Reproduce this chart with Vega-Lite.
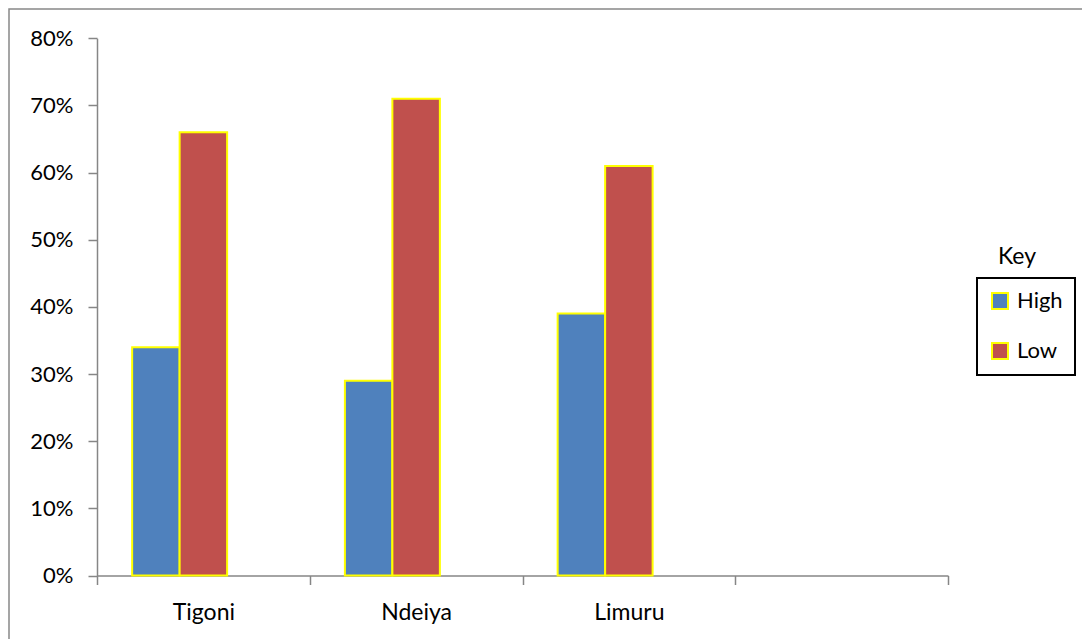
{
  "$schema": "https://vega.github.io/schema/vega-lite/v6.json",
  "width": 1081,
  "height": 638,
  "autosize": {"type": "none"},
  "padding": {"left": 9, "top": 9, "right": -8, "bottom": -8},
  "background": "white",
  "title": {
    "text": "Key",
    "orient": "top",
    "anchor": "start",
    "frame": "group",
    "font": "Lato",
    "fontSize": 23,
    "fontWeight": "normal",
    "color": "#000000",
    "baseline": "alphabetic",
    "offset": 0,
    "dx": 989,
    "dy": 278
  },
  "config": {
    "view": {"stroke": "#888888", "strokeWidth": 1.5},
    "font": "Lato"
  },
  "data": {
    "values": [
      {"site": "Tigoni", "level": "High", "pct": 0.34},
      {"site": "Tigoni", "level": "Low", "pct": 0.66},
      {"site": "Ndeiya", "level": "High", "pct": 0.29},
      {"site": "Ndeiya", "level": "Low", "pct": 0.71},
      {"site": "Limuru", "level": "High", "pct": 0.39},
      {"site": "Limuru", "level": "Low", "pct": 0.61}
    ]
  },
  "mark": {"type": "bar", "stroke": "#FFFF00", "strokeWidth": 2},
  "encoding": {
    "x": {
      "field": "site",
      "type": "nominal",
      "scale": {"domain": ["Tigoni", "Ndeiya", "Limuru", " "], "range": [88, 939], "paddingInner": 0, "paddingOuter": 0},
      "axis": {
        "title": null,
        "labelAngle": 0,
        "tickBand": "extent",
        "offset": -71.5,
        "domainColor": "#868686",
        "domainWidth": 1.5,
        "tickColor": "#868686",
        "tickWidth": 1.5,
        "tickSize": 9,
        "labelFont": "Lato",
        "labelFontSize": 23,
        "labelColor": "#000000",
        "labelPadding": 17
      }
    },
    "xOffset": {
      "field": "level",
      "type": "nominal",
      "scale": {"domain": ["High", "Low", "Blank"], "paddingInner": 0, "paddingOuter": 0.74}
    },
    "y": {
      "field": "pct",
      "type": "quantitative",
      "scale": {"domain": [0, 0.8], "nice": false, "range": [566.5, 29.3]},
      "axis": {
        "title": null,
        "values": [0, 0.1, 0.2, 0.3, 0.4, 0.5, 0.6, 0.7, 0.8],
        "format": ".0%",
        "grid": false,
        "offset": -88,
        "domainColor": "#868686",
        "domainWidth": 1.5,
        "tickColor": "#868686",
        "tickWidth": 1.5,
        "tickSize": 9,
        "labelFont": "Lato",
        "labelFontSize": 22,
        "labelColor": "#000000",
        "labelPadding": 15
      }
    },
    "fill": {
      "field": "level",
      "type": "nominal",
      "scale": {"domain": ["High", "Low"], "range": ["#4F81BD", "#C0504D"]},
      "legend": {
        "title": null,
        "orient": "none",
        "legendX": 968,
        "legendY": 269,
        "strokeColor": "#000000",
        "padding": 12,
        "symbolType": "square",
        "symbolSize": 256,
        "symbolStrokeColor": "#FFFF00",
        "symbolStrokeWidth": 2,
        "symbolOpacity": 1,
        "labelFont": "Lato",
        "labelFontSize": 22,
        "labelColor": "#000000",
        "labelOffset": 6,
        "rowPadding": 26,
        "encode": {"legend": {"update": {"strokeWidth": {"value": 2}}}}
      }
    }
  }
}
